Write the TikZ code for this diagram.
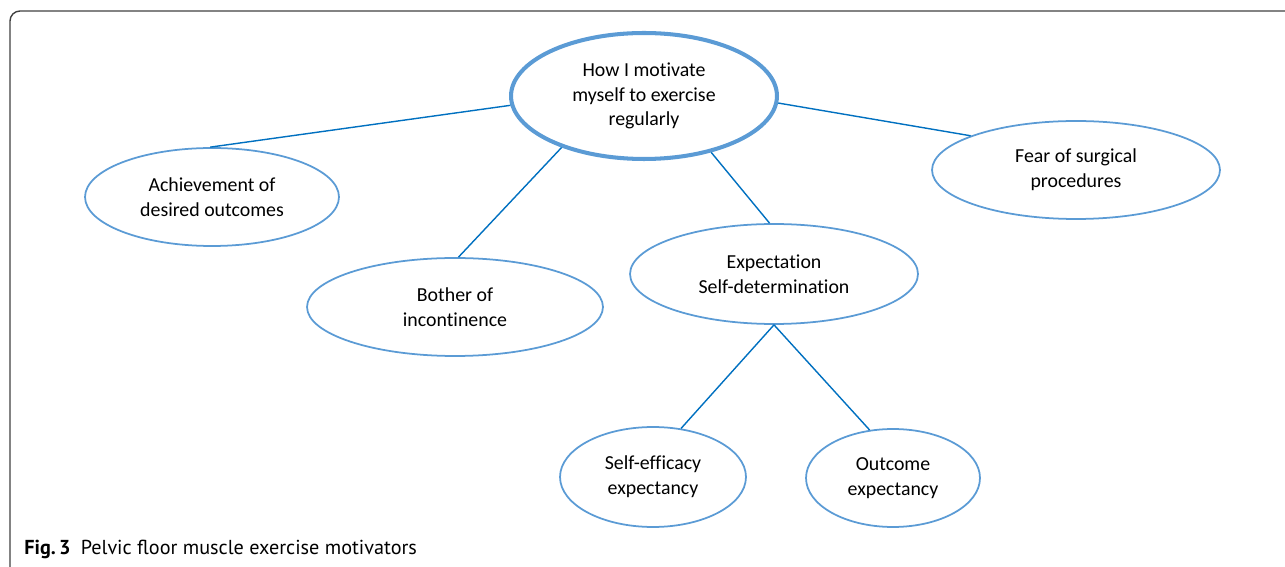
\documentclass[tikz,border=0pt]{standalone}
\usepackage{fontspec}
\setmainfont[Ligatures=NoCommon]{Carlito}
\newfontfamily\capfont{PT Sans}
\usetikzlibrary{shapes.geometric}

\begin{document}
\begin{tikzpicture}[x=0.02cm,y=-0.02cm]
\definecolor{ringcol}{RGB}{91,155,213}
\definecolor{linkcol}{RGB}{0,112,192}
\colorlet{framecol}{black!75}
\tikzstyle{link}=[linkcol,line width=0.8pt]
\tikzset{
bubble/.style={ellipse,draw=ringcol,line width=1pt,inner sep=0pt,align=center,
  font=\fontsize{11.3}{14}\selectfont},
}
\def\W{1285}   % picture width (px)
\def\H{567}    % picture height (px)

% FRAME
\useasboundingbox (0,0) rectangle (\W,\H);
\draw[framecol,line width=0.8pt,rounded corners=0.2cm] (10,\H+5) |- (\W+5,11);

% BUBBLES
\node[bubble,line width=2.3pt,minimum width=5.32cm,minimum height=2.52cm] (root) at (644,96)
  {How I motivate\\myself to exercise\\regularly};
\node[bubble,minimum width=5.08cm,minimum height=1.96cm] (ach) at (212,197)
  {Achievement of\\desired outcomes};
\node[bubble,minimum width=5.92cm,minimum height=1.96cm] (both) at (455,307)
  {Bother of\\incontinence};
\node[bubble,minimum width=5.76cm,minimum height=2.0cm] (expect) at (774,274)
  {Expectation\\Self-determination};
\node[bubble,minimum width=5.76cm,minimum height=1.96cm] (fear) at (1076,170)
  {Fear of surgical\\procedures};
\node[bubble,minimum width=3.72cm,minimum height=2.0cm] (selfeff) at (653,477)
  {Self-efficacy\\expectancy};
\node[bubble,minimum width=3.48cm,minimum height=1.96cm] (outc) at (893,478)
  {Outcome\\expectancy};

% LINKS
\draw[link] (root.184) -- (ach.92);
\draw[link] (root.212) -- (both.86);
\draw[link] (root.320) -- (expect.95);
\draw[link] (root.357) -- (fear.162);
\draw[link] (expect.south) -- (selfeff.60);
\draw[link] (expect.south) -- (outc.116);

% CAPTION
\node[anchor=west,inner sep=0pt,font=\capfont\fontsize{11.5}{14}\selectfont] (caption) at (24,549)
  {\textbf{Fig.\,3}\hspace{0.5em}Pelvic floor muscle exercise motivators};
\end{tikzpicture}
\end{document}
